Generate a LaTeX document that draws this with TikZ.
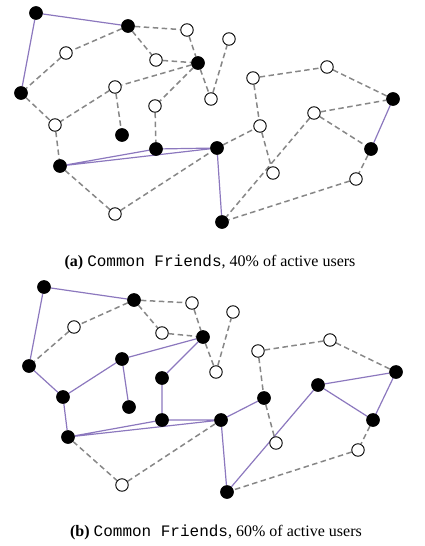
\documentclass[tikz,border=0pt]{standalone}
\usepackage{fontspec}
\setmainfont{Liberation Serif}
\setmonofont{Liberation Mono}
\usetikzlibrary{backgrounds}
\begin{document}
\begin{tikzpicture}[x=1pt,y=-1pt,
  on/.style={circle,fill=black,draw=black,line width=0.6pt,inner sep=0pt,minimum size=13pt},
  off/.style={circle,fill=white,draw=black,line width=0.9pt,inner sep=0pt,minimum size=12.5pt},
  sol/.style={draw={rgb,255:red,140;green,120;blue,190},line width=1.2pt},
  dsh/.style={draw={rgb,255:red,135;green,135;blue,135},line width=1.5pt,dash pattern=on 5.5pt off 3.5pt},
  captxt/.style={font=\fontsize{16}{18}\selectfont,anchor=center}]
\useasboundingbox (0,0) rectangle (425,546);
% ---------- top graph ----------
\node[on]  (a1) at (36,13) {};
\node[on]  (b1) at (128,26) {};
\node[off] (c1) at (187,30) {};
\node[off] (d1) at (66,53) {};
\node[off] (e1) at (156,60) {};
\node[on]  (f1) at (198,63) {};
\node[on]  (g1) at (21,93) {};
\node[off] (h1) at (115,87) {};
\node[off] (i1) at (211,99) {};
\node[off] (j1) at (155,106) {};
\node[off] (k1) at (55,125) {};
\node[on]  (l1) at (122,135) {};
\node[on]  (m1) at (156,149) {};
\node[on]  (n1) at (217,148) {};
\node[on]  (o1) at (60,166) {};
\node[off] (p1) at (115,214) {};
\node[on]  (q1) at (222,222) {};
\node[off] (r1) at (229,39) {};
\node[off] (s1) at (253,78) {};
\node[off] (t1) at (327,67) {};
\node[on]  (u1) at (393,99) {};
\node[off] (v1) at (314,113) {};
\node[off] (w1) at (260,126) {};
\node[on]  (x1) at (371,149) {};
\node[off] (y1) at (273,173) {};
\node[off] (z1) at (356,179) {};
% ---------- bottom graph ----------
\node[on]  (a2) at (44,287) {};
\node[on]  (b2) at (134,300) {};
\node[off] (c2) at (192,303) {};
\node[off] (d2) at (74,327) {};
\node[off] (e2) at (162,333) {};
\node[on]  (f2) at (203,337) {};
\node[on]  (g2) at (29,366) {};
\node[on]  (h2) at (122,359) {};
\node[off] (i2) at (216,372) {};
\node[on]  (j2) at (162,378) {};
\node[on]  (k2) at (63,397) {};
\node[on]  (l2) at (129,407) {};
\node[on]  (m2) at (162,420) {};
\node[on]  (n2) at (221,420) {};
\node[on]  (o2) at (68,437) {};
\node[off] (p2) at (122,485) {};
\node[on]  (q2) at (227,492) {};
\node[off] (r2) at (233,312) {};
\node[off] (s2) at (258,351) {};
\node[off] (t2) at (330,340) {};
\node[on]  (u2) at (396,372) {};
\node[on]  (v2) at (318,385) {};
\node[on]  (w2) at (264,398) {};
\node[on]  (x2) at (373,420) {};
\node[off] (y2) at (276,443) {};
\node[off] (z2) at (358,450) {};
\begin{pgfonlayer}{background}
% edges top
\path[sol] (a1)--(b1) (a1)--(g1) (o1)--(m1) (o1)--(n1) (m1)--(n1) (n1)--(q1) (u1)--(x1);
\path[dsh] (b1)--(c1) (b1)--(e1) (b1)--(d1) (d1)--(g1) (e1)--(f1) (c1)--(f1) (f1)--(h1) (f1)--(j1) (f1)--(i1) (i1)--(r1)
  (g1)--(k1) (h1)--(k1) (h1)--(l1) (j1)--(m1) (k1)--(o1) (o1)--(p1) (p1)--(n1) (n1)--(w1) (s1)--(w1) (s1)--(t1) (t1)--(u1)
  (v1)--(u1) (v1)--(x1) (v1)--(q1) (w1)--(y1) (x1)--(z1) (z1)--(q1);
% edges bottom
\path[sol] (a2)--(b2) (a2)--(g2) (g2)--(k2) (k2)--(o2) (k2)--(h2) (h2)--(l2) (h2)--(f2) (f2)--(j2) (j2)--(m2)
  (o2)--(m2) (o2)--(n2) (m2)--(n2) (n2)--(w2) (n2)--(q2) (q2)--(v2) (v2)--(u2) (v2)--(x2) (u2)--(x2);
\path[dsh] (b2)--(c2) (b2)--(e2) (b2)--(d2) (d2)--(g2) (e2)--(f2) (c2)--(f2) (f2)--(i2) (i2)--(r2)
  (o2)--(p2) (p2)--(n2) (s2)--(w2) (s2)--(t2) (t2)--(u2) (w2)--(y2) (x2)--(z2) (z2)--(q2);
\end{pgfonlayer}
\node[captxt] (capa) at (210,262) {\textbf{(a)} \texttt{Common Friends}, 40\% of active users};
\node[captxt] (capb) at (216,532) {\textbf{(b)} \texttt{Common Friends}, 60\% of active users};
\end{tikzpicture}
\end{document}
